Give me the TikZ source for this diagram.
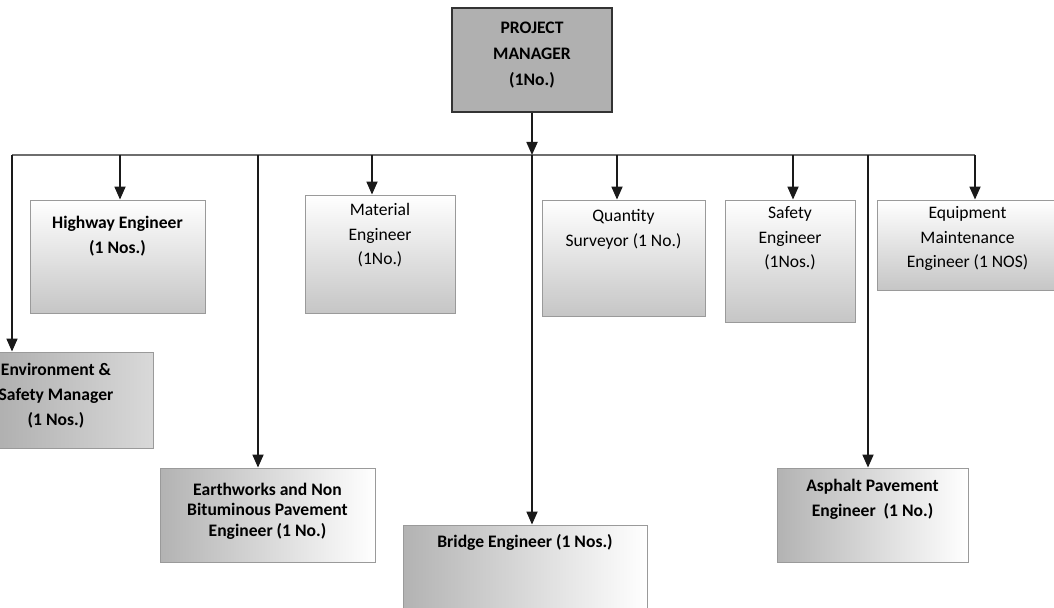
\documentclass[tikz,border=0pt]{standalone}
\usepackage{fontspec}
\setmainfont{Carlito}
\usetikzlibrary{positioning, arrows.meta, calc}
\definecolor{inkline}{HTML}{1A1A1A}
\definecolor{busline}{HTML}{6E6E6E}
\definecolor{frame}{HTML}{9A9A9A}

\begin{document}
\begin{tikzpicture}[
      every node/.style={align=center, font=\fontsize{10}{14}\selectfont},
      post/.style={draw=frame, line width=0.5pt, top color=white, bottom color=gray!45},
      lowpost/.style={draw=frame, line width=0.5pt, left color=gray!60, right color=white},
      link/.style={draw=inkline, line width=1pt, -{Triangle[length=2.6mm, width=2.2mm]}},
      bus/.style={draw=busline, line width=0.9pt}]

    \useasboundingbox (0,0) rectangle (21.08,-12.16);

    \node[draw=black!80, line width=0.8pt, fill=gray!62, minimum width=3.2cm, minimum height=2.08cm, text depth=0.26cm, font=\fontsize{10}{14.8}\selectfont\bfseries] (pm) at (10.64,-1.20) {PROJECT\\MANAGER\\(1No.)};

    \node[post, minimum width=3.5cm, minimum height=2.26cm, text depth=0.87cm, font=\fontsize{10}{14}\selectfont\bfseries] (hwy) at (2.35,-5.13) {Highway Engineer\\(1 Nos.)};
    \node[post, minimum width=3.0cm, minimum height=2.36cm, text depth=0.79cm] (mat) at (7.6,-5.08) {Material\\Engineer\\(1No.)};
    \node[post, minimum width=3.26cm, minimum height=2.32cm, text depth=1.21cm] (qs) at (12.47,-5.16) {Quantity\\Surveyor (1 No.)};
    \node[post, minimum width=2.6cm, minimum height=2.44cm, text depth=0.95cm] (safe) at (15.8,-5.22) {Safety\\Engineer\\(1Nos.)};
    \node[post, minimum width=3.62cm, minimum height=1.8cm, text depth=0.31cm] (equip) at (19.35,-4.9) {Equipment\\Maintenance\\Engineer (1 NOS)};

    \node[lowpost, left color=gray!70, right color=gray!30, minimum width=3.88cm, minimum height=1.92cm, text depth=0.23cm, font=\fontsize{10}{14}\selectfont\bfseries] (env) at (1.12,-8.0) {Environment \&\\Safety Manager\\(1 Nos.)};
    \node[lowpost, minimum width=4.3cm, minimum height=1.88cm, text depth=0.21cm, font=\fontsize{10}{11.5}\selectfont\bfseries] (earth) at (5.35,-10.3) {Earthworks and Non\\Bituminous Pavement\\Engineer (1 No.)};
    \node[lowpost, minimum width=4.88cm, minimum height=1.66cm, text depth=1.04cm, font=\fontsize{10}{14}\selectfont\bfseries] (bridge) at (10.5,-11.33) {Bridge Engineer (1 Nos.)};
    \node[lowpost, minimum width=3.82cm, minimum height=1.88cm, text depth=0.69cm, font=\fontsize{10}{14}\selectfont\bfseries] (asph) at (17.45,-10.3) {Asphalt Pavement\\Engineer\ \ (1 No.)};

    % drop points on the bus
    \foreach \x/\n in {0.24/env, 2.4/hwy, 5.16/earth, 7.44/mat, 10.64/bridge, 12.34/qs, 15.86/safe, 17.36/asph, 19.5/equip}
      \coordinate (d-\n) at (\x,-3.1);

    \draw[bus] (d-env) -- (d-equip);
    \draw[link] (pm.south) -- (d-bridge);
    \foreach \n in {env, hwy, earth, mat, bridge, qs, safe, asph, equip}
      \draw[link] (d-\n) -- (d-\n |- \n.north);
  \end{tikzpicture}
\end{document}
